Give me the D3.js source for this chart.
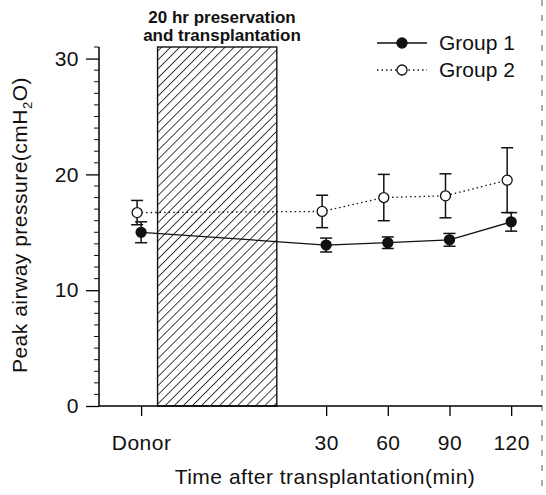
<!DOCTYPE html>
<html>
<head>
<meta charset="utf-8">
<script src="https://cdn.jsdelivr.net/npm/d3@7"></script>
<style>
  body { margin: 0; background: #fff; }
  text { font-family: "Liberation Sans", Arial, sans-serif; fill: #111; }
</style>
</head>
<body>
<svg id="chart" width="546" height="495"></svg>
<script>
// time points (min); donor sample plotted at -60
var times = [-60, 30, 60, 90, 120];
var tickLabels = ["Donor", "30", "60", "90", "120"];
var group1Mean = [15.0, 13.9, 14.1, 14.35, 15.9];
var group1Err = [0.9, 0.6, 0.5, 0.55, 0.8];
var group2Mean = [16.7, 16.8, 18.0, 18.15, 19.5];
var group2Err = [1.05, 1.4, 2.0, 1.9, 2.8];
var preservation = [-52, 6];
var yTicks = [0, 10, 20, 30];

var svg = d3.select("#chart");

var x = d3.scaleLinear().domain([-80, 135]).range([100, 542]);
var y = d3.scaleLinear().domain([0, 31]).range([406, 47]);

var defs = svg.append("defs");
defs.append("pattern")
    .attr("id", "hatch")
    .attr("patternUnits", "userSpaceOnUse")
    .attr("width", 6.4).attr("height", 6.4)
    .attr("patternTransform", "rotate(45)")
    .append("line")
    .attr("x1", 0).attr("y1", 0).attr("x2", 0).attr("y2", 6.4)
    .attr("stroke", "#111").attr("stroke-width", 1.6);

// scan edge
svg.append("line")
    .attr("x1", 542).attr("x2", 542).attr("y1", 0).attr("y2", 495)
    .attr("stroke", "#555").attr("stroke-width", 1)
    .attr("stroke-dasharray", "6,9");

// hatched period
svg.append("rect")
    .attr("x", x(preservation[0]))
    .attr("y", y(31))
    .attr("width", x(preservation[1]) - x(preservation[0]))
    .attr("height", y(0) - y(31))
    .attr("fill", "url(#hatch)")
    .attr("stroke", "#111").attr("stroke-width", 1.4);

svg.append("text").attr("x", 222).attr("y", 23)
    .attr("text-anchor", "middle").attr("font-weight", "bold").attr("font-size", 17)
    .text("20 hr preservation");
svg.append("text").attr("x", 222).attr("y", 41)
    .attr("text-anchor", "middle").attr("font-weight", "bold").attr("font-size", 17)
    .text("and transplantation");

var fontSize = 21, spacing = 0.5;

// y axis
var yAxis = d3.axisLeft(y).tickValues(yTicks).tickSize(13).tickPadding(7).tickFormat(d3.format("d"));
var yG = svg.append("g").attr("transform", "translate(99,0)").call(yAxis);
yG.selectAll(".tick line").attr("stroke-width", 1.3);
yG.select(".domain").attr("d", "M0," + y(31) + "V" + y(0)).attr("stroke-width", 1.5);
yG.selectAll(".tick text").attr("font-size", fontSize).attr("letter-spacing", spacing)
    .attr("font-family", "Liberation Sans, Arial, sans-serif").attr("fill", "#111");
yG.selectAll(".minor").data(d3.range(0, 32).filter(function (d) { return d % 10 !== 0; }))
    .enter().append("line")
    .attr("x1", -5).attr("x2", 0)
    .attr("y1", function (d) { return y(d); }).attr("y2", function (d) { return y(d); })
    .attr("stroke", "#111").attr("stroke-width", 1);

// x axis
var xAxis = d3.axisBottom(x).tickValues(times).tickSize(10).tickPadding(19)
    .tickFormat(function (d, i) { return tickLabels[i]; });
var xG = svg.append("g").attr("transform", "translate(0,406)").call(xAxis);
xG.select(".domain").attr("d", "M99,0H542").attr("stroke-width", 1.5);
xG.selectAll(".tick line").attr("stroke-width", 1.3);
xG.selectAll(".tick text").attr("font-size", fontSize).attr("letter-spacing", spacing)
    .attr("font-family", "Liberation Sans, Arial, sans-serif").attr("fill", "#111");

svg.append("text").attr("x", 325).attr("y", 484)
    .attr("text-anchor", "middle").attr("font-size", fontSize).attr("letter-spacing", spacing)
    .text("Time after transplantation(min)");

var yl = svg.append("text")
    .attr("transform", "translate(27,225) rotate(-90)")
    .attr("text-anchor", "middle").attr("font-size", fontSize).attr("letter-spacing", spacing);
yl.append("tspan").text("Peak airway pressure(cmH");
yl.append("tspan").attr("font-size", 13).attr("dy", 5).text("2");
yl.append("tspan").attr("dy", -5).text("O)");

// series
var series = [
  { name: "Group 1", mean: group1Mean, err: group1Err, fill: "#111", dash: null, dx: 0 },
  { name: "Group 2", mean: group2Mean, err: group2Err, fill: "#fff", dash: "1.5,3", dx: -4 }
];

var line = d3.line()
    .x(function (d) { return d.x; })
    .y(function (d) { return d.y; });

series.forEach(function (s) {
  var pts = times.map(function (t, i) {
    return { x: x(t) + s.dx, y: y(s.mean[i]), hi: y(s.mean[i] + s.err[i]), lo: y(s.mean[i] - s.err[i]) };
  });
  var g = svg.append("g");
  g.append("path").attr("d", line(pts))
      .attr("fill", "none").attr("stroke", "#111").attr("stroke-width", 1.3)
      .attr("stroke-dasharray", s.dash);
  var eb = g.selectAll(".eb").data(pts).enter().append("g");
  eb.append("line").attr("x1", function (d) { return d.x; }).attr("x2", function (d) { return d.x; })
      .attr("y1", function (d) { return d.hi; }).attr("y2", function (d) { return d.lo; })
      .attr("stroke", "#111").attr("stroke-width", 1.5);
  [ "hi", "lo" ].forEach(function (k) {
    eb.append("line").attr("x1", function (d) { return d.x - 6; }).attr("x2", function (d) { return d.x + 6; })
        .attr("y1", function (d) { return d[k]; }).attr("y2", function (d) { return d[k]; })
        .attr("stroke", "#111").attr("stroke-width", 1.5);
  });
  eb.append("circle").attr("cx", function (d) { return d.x; }).attr("cy", function (d) { return d.y; })
      .attr("r", 5).attr("fill", s.fill).attr("stroke", "#111").attr("stroke-width", 1.3);
});

// legend
var legend = svg.append("g");
series.forEach(function (s, i) {
  var ly = 43 + i * 27;
  legend.append("line").attr("x1", 377).attr("x2", 427).attr("y1", ly).attr("y2", ly)
      .attr("stroke", "#111").attr("stroke-width", 1.3).attr("stroke-dasharray", s.dash);
  legend.append("circle").attr("cx", 402).attr("cy", ly).attr("r", 5)
      .attr("fill", s.fill).attr("stroke", "#111").attr("stroke-width", 1.3);
  legend.append("text").attr("x", 439).attr("y", ly + 7).attr("font-size", 21).text(s.name);
});
</script>
</body>
</html>
